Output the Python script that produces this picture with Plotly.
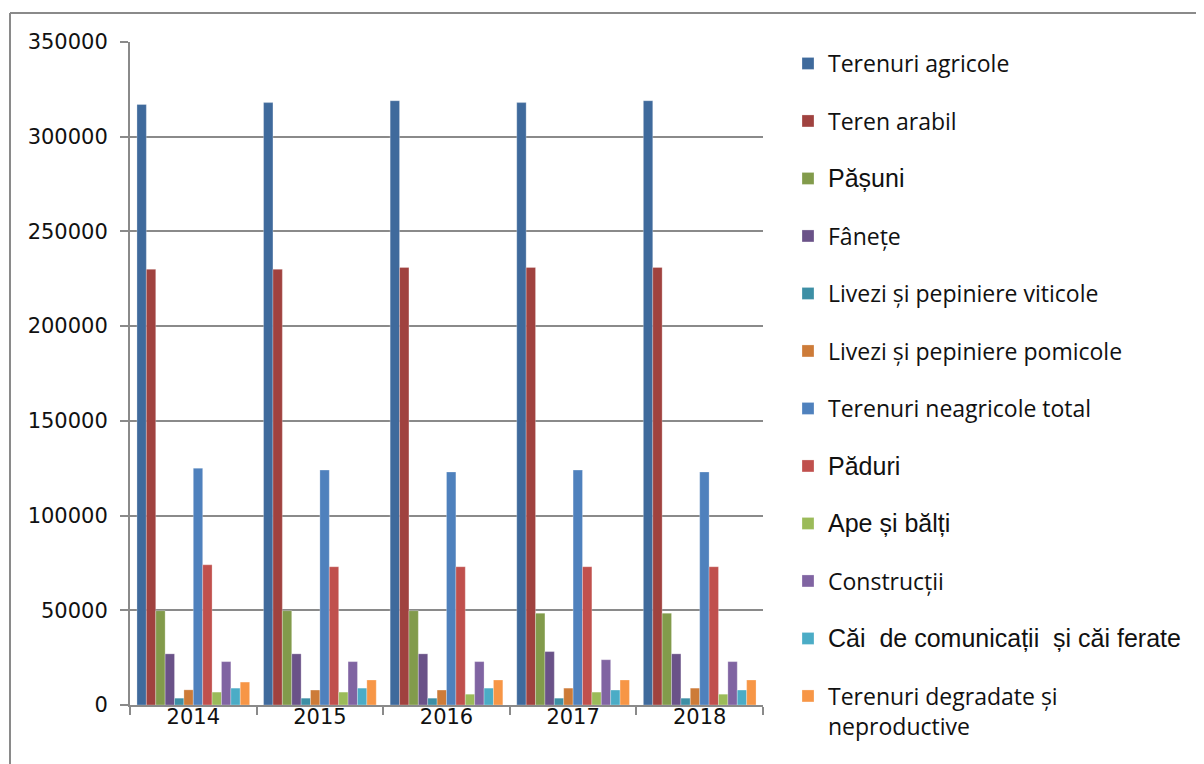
import plotly.graph_objects as go

# %%
years = ["2014", "2015", "2016", "2017", "2018"]

terenuri_agricole = [317000, 318000, 319000, 318000, 319000]
teren_arabil = [230000, 230000, 231000, 231000, 231000]
pasuni = [49800, 49800, 49800, 48500, 48500]
fanete = [27000, 27000, 27000, 28200, 27000]
livezi_viticole = [3600, 3600, 3600, 3600, 3600]
livezi_pomicole = [8000, 7900, 7900, 8900, 8900]
terenuri_neagricole = [125000, 124000, 123000, 124000, 123000]
paduri = [74000, 73000, 73000, 73000, 73000]
ape_balti = [6800, 6800, 5700, 6800, 5700]
constructii = [22900, 22900, 22900, 23900, 22900]
cai_comunicatii = [8900, 8900, 8900, 7900, 7900]
terenuri_degradate = [12100, 13200, 13200, 13200, 13200]

y_ticks = [0, 50000, 100000, 150000, 200000, 250000, 300000, 350000]

# %%
arial = '<span style="font-family:Liberation Sans, Arial;font-size:25px">{}</span>'

series = [
    ("Terenuri agricole", terenuri_agricole, "#3F6A9C"),
    ("Teren arabil", teren_arabil, "#A0423F"),
    (arial.format("Pășuni"), pasuni, "#829B4B"),
    ("Fânețe", fanete, "#6A5288"),
    ("Livezi și pepiniere viticole", livezi_viticole, "#3D8FA5"),
    ("Livezi și pepiniere pomicole", livezi_pomicole, "#CD7B38"),
    ("Terenuri neagricole total", terenuri_neagricole, "#4F81BD"),
    (arial.format("Păduri"), paduri, "#C0504D"),
    (arial.format("Ape și bălți"), ape_balti, "#9BBB59"),
    ("Construcții", constructii, "#8064A2"),
    (arial.format("Căi\u00a0 de comunicații\u00a0 și căi ferate"), cai_comunicatii, "#4BACC6"),
    ("Terenuri degradate și<br>neproductive", terenuri_degradate, "#F79646"),
]

fig = go.Figure()
for i, (name, vals, col) in enumerate(series):
    fig.add_trace(go.Bar(
        x=years, y=vals, name=name, legendgroup=f"g{i}",
        legend="legend" if i < 6 else "legend2",
        marker=dict(color=col, line=dict(color="rgba(255,255,255,0.45)", width=0.6)),
    ))

# page has an 8px body margin, so figure coords = page coords - 8
W, H = 1196, 756
L, R, T, B = 122, 755, 34, 697
def px(x):
    return (x - L) / (R - L)
def py(y):
    return (B - y) / (B - T)

grey = "#8A8A8A"
leg = dict(
    xref="container", yref="container", xanchor="left", yanchor="top",
    font=dict(family="Open Sans", size=23, color="#111111"),
    tracegroupgap=24.6, traceorder="grouped", valign="top",
    bgcolor="rgba(0,0,0,0)",
)
fig.update_layout(
    width=W, height=H,
    margin=dict(l=L, r=W - R, t=T, b=H - B, pad=0),
    paper_bgcolor="white", plot_bgcolor="white",
    barmode="group", bargap=0.11, bargroupgap=0,
    font=dict(family="DejaVu Sans", size=21, color="#111111"),
    legend=dict(leg, x=780 / W, y=1 - 34 / H),
    legend2=dict(leg, x=780 / W, y=1 - 379 / H),
    showlegend=True,
    shapes=[
        dict(type="line", xref="paper", yref="paper", x0=px(2), x1=px(1210),
             y0=py(5), y1=py(5), line=dict(color=grey, width=2)),
        dict(type="line", xref="paper", yref="paper", x0=px(2), x1=px(2),
             y0=py(5), y1=py(770), line=dict(color=grey, width=2)),
    ],
)

fig.update_yaxes(
    range=[0, 350000], tickvals=y_ticks, tickformat="d",
    showgrid=True, gridcolor=grey, gridwidth=2,
    showline=True, linecolor=grey, linewidth=2,
    ticks="outside", ticklen=8, tickcolor=grey, tickwidth=2,
    ticklabelstandoff=8, zeroline=False,
)
fig.update_xaxes(
    type="category", showgrid=False,
    showline=True, linecolor=grey, linewidth=2,
    ticks="outside", ticklen=8, tickcolor=grey, tickwidth=2,
    tickson="boundaries", ticklabelstandoff=-8,
)

fig.write_html("out.html")
